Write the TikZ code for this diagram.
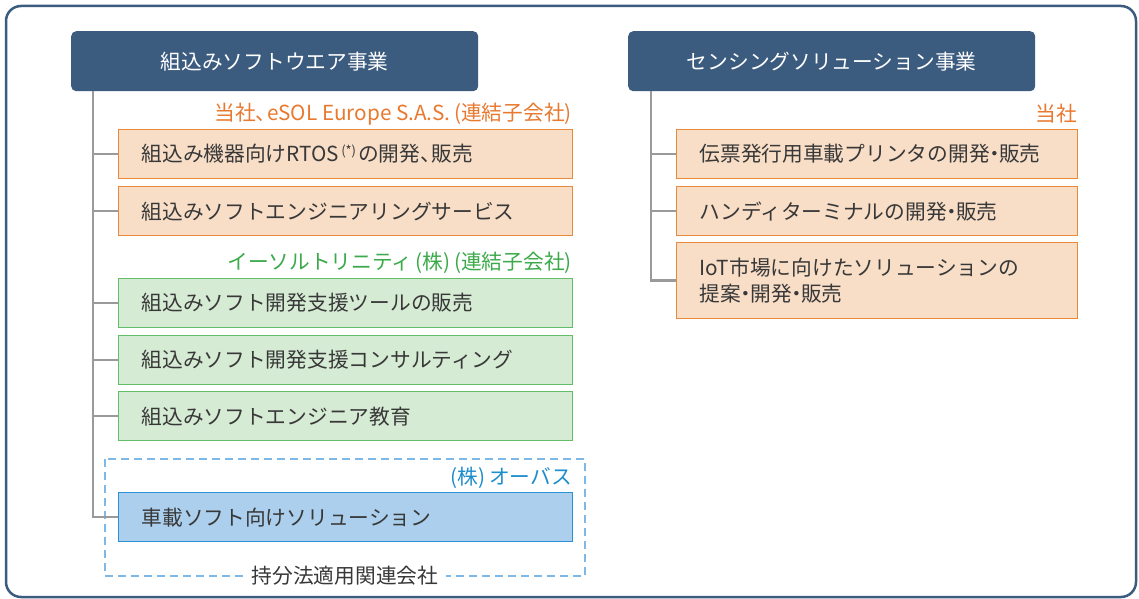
\documentclass[tikz,border=0pt]{standalone}
\usepackage{fontspec}
\setmainfont{Noto Sans CJK JP}
\definecolor{navy}{HTML}{3B5B7F}
\definecolor{ink}{HTML}{383838}
\definecolor{treegray}{HTML}{9A9A9A}
\definecolor{orgtext}{HTML}{E8792F}
\definecolor{orgfill}{HTML}{F8DEC7}
\definecolor{orgline}{HTML}{E8893C}
\definecolor{grntext}{HTML}{3CAA4B}
\definecolor{grnfill}{HTML}{D6EBD4}
\definecolor{grnline}{HTML}{62BC68}
\definecolor{blutext}{HTML}{1E8DCB}
\definecolor{blufill}{HTML}{ABCFEC}
\definecolor{bluline}{HTML}{2A91D2}
\definecolor{bludash}{HTML}{7DB8E6}
% compact punctuation
\newcommand{\tou}{\makebox[0.55em][l]{、}}
\newcommand{\nakaten}{\makebox[0.45em][c]{・}}

\begin{document}
\begin{tikzpicture}[x=1bp,y=-1bp,line cap=butt,
  font=\fontsize{20.8}{26}\selectfont]
	\tikzstyle{head}=[draw=none,fill=navy,rounded corners=5bp,text=white,minimum width=407bp,minimum height=60bp,anchor=north west];
	\tikzstyle{box}=[line width=1.3bp,text=ink,align=left,inner xsep=23bp,minimum height=49bp,anchor=north west];
	\tikzstyle{lbox}=[box,text width=408bp];
	\tikzstyle{rbox}=[box,text width=355bp];
	\tikzstyle{obox}=[draw=orgline,fill=orgfill];
	\tikzstyle{gbox}=[draw=grnline,fill=grnfill];
	\tikzstyle{bbox}=[draw=bluline,fill=blufill];
	\tikzstyle{tag}=[anchor=east,inner sep=0pt];
	\tikzstyle{tree}=[draw=treegray,line width=2.6bp];

	\useasboundingbox (0,0) rectangle (1139,599);
	\draw[navy,line width=2.5bp,rounded corners=15bp,fill=white] (6,6) rectangle (1136,597);

	% headers
	\node[head] (embed) at (71,31) {組込みソフトウエア事業};
	\node[head] (sense) at (628,31) {センシングソリューション事業};

	% left column
	\node[tag,text=orgtext] (tagA) at (572,114) {当社\tou eSOL Europe S.A.S.\,(連結子会社)};
	\node[lbox,obox] (e1) at (118,129) {組込み機器向けRTOS\raisebox{.6ex}{\fontsize{13}{13}\selectfont\,(*)\,}の開発\tou 販売};
	\node[lbox,obox] (e2) at (118,186) {組込みソフトエンジニアリングサービス};
	\node[tag,text=grntext] (tagB) at (572,263) {イーソルトリニティ\,(株)\,(連結子会社)};
	\node[lbox,gbox] (e3) at (118,278) {組込みソフト開発支援ツールの販売};
	\node[lbox,gbox] (e4) at (118,335) {組込みソフト開発支援コンサルティング};
	\node[lbox,gbox] (e5) at (118,391) {組込みソフトエンジニア教育};
	\draw[bludash,line width=2bp,dash pattern=on 8bp off 5bp] (105,459) rectangle (585,576);
	\node[tag,text=blutext] (tagC) at (572,478) {(株)\,オーバス};
	\node[lbox,bbox] (e6) at (118,492) {車載ソフト向けソリューション};
	\node[fill=white,text=ink,inner xsep=8bp,inner ysep=2bp] (equity) at (345,576) {持分法適用関連会社};

	% right column
	\node[tag,text=orgtext] (tagD) at (1077,114) {当社};
	\node[rbox,obox] (s1) at (676,129) {伝票発行用車載プリンタの開発\nakaten 販売};
	\node[rbox,obox] (s2) at (676,186) {ハンディターミナルの開発\nakaten 販売};
	\node[rbox,obox,minimum height=76bp] (s3) at (676,242) {IoT市場に向けたソリューションの\\提案\nakaten 開発\nakaten 販売};

	% trees
	\coordinate (et) at (93,91);
	\coordinate (st) at (651,91);
	\draw[tree] (et) |- (e6.west);
	\foreach \b in {e1,e2,e3,e4,e5}
		\draw[tree] (et |- \b.west) -- (\b.west);
	\draw[tree] (st) |- (s3.west);
	\foreach \b in {s1,s2}
		\draw[tree] (st |- \b.west) -- (\b.west);
\end{tikzpicture}
\end{document}
